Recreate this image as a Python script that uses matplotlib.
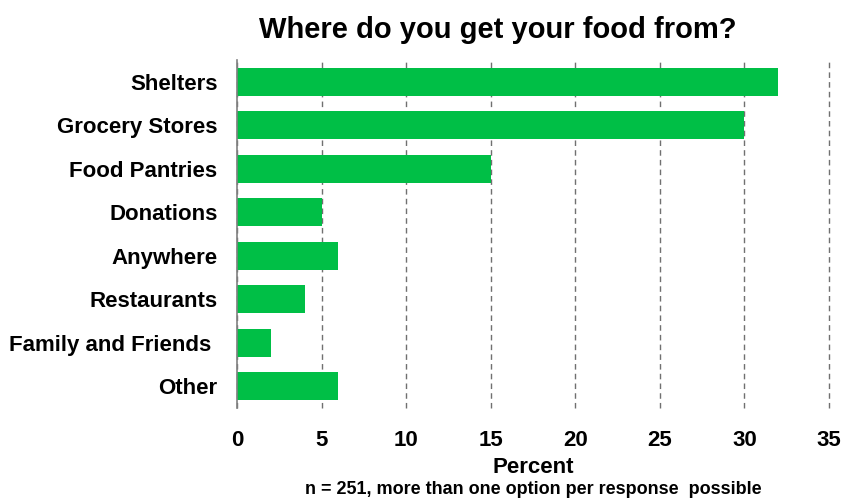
import matplotlib.pyplot as plt

# survey responses, percent of respondents
sources = ["Shelters", "Grocery Stores", "Food Pantries", "Donations",
           "Anywhere", "Restaurants", "Family and Friends ", "Other"]
percent = [32, 30, 15, 5, 6, 4, 2, 6]
xticks = [0, 5, 10, 15, 20, 25, 30, 35]

plt.rcParams['font.family'] = ['Liberation Sans', 'DejaVu Sans']

fig = plt.figure(figsize=(8.53, 4.99), dpi=100)
ax = fig.add_axes([0.2778, 0.1824, 0.694, 0.6974])

ypos = list(range(len(sources)))
ax.barh(ypos, percent, height=0.65, color="#00BF46", zorder=3)

ax.set_xlim(0, 35)
ax.set_ylim(len(sources) - 0.5, -0.5)
ax.set_xticks(xticks)
ax.set_xticklabels([str(t) for t in xticks], fontsize=16, fontweight="bold")
ax.set_yticks(ypos)
ax.set_yticklabels(sources, fontsize=16, fontweight="bold")
ax.tick_params(axis="y", length=0, pad=14)
ax.tick_params(axis="x", length=0, pad=16)

ax.grid(axis="x", color="#707070", linestyle=(0, (4, 3)), linewidth=1, zorder=0)
for line in ax.get_xgridlines():
    line.set_clip_on(False)
for side in ["top", "right", "bottom"]:
    ax.spines[side].set_visible(False)
ax.spines["left"].set_color("#808080")
ax.spines["left"].set_linewidth(1.2)
ax.spines["left"].set_zorder(4)

ax.set_xlabel("Percent", fontsize=16, fontweight="bold", labelpad=4)
fig.text(0.583, 0.940, "Where do you get your food from?", ha="center", va="center",
         fontsize=21, fontweight="bold")
fig.text(0.625, 0.02, "n = 251, more than one option per response  possible",
         ha="center", va="center", fontsize=13, fontweight="bold")

fig.savefig("out.png", dpi=100)
